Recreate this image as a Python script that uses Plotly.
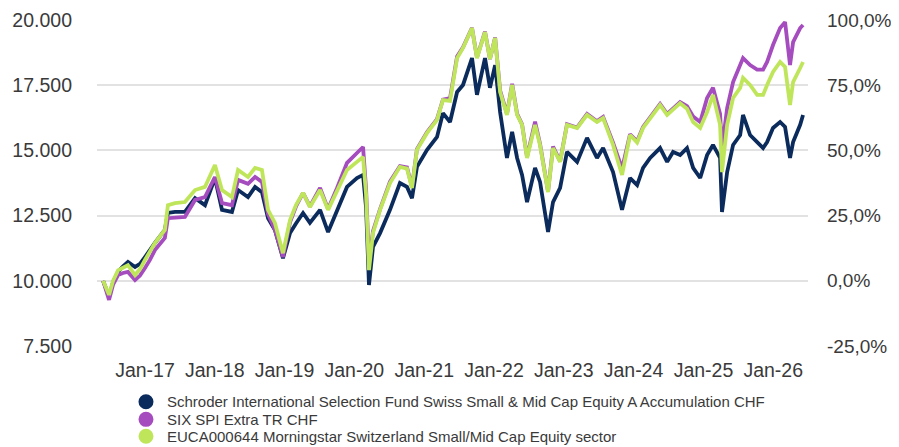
import plotly.graph_objects as go

dates = [
    "2016-05-27", "2016-06-27", "2016-07-18", "2016-08-13", "2016-09-08", "2016-10-04", "2016-11-10", "2016-12-06",
    "2017-01-01", "2017-01-27", "2017-02-22", "2017-03-20", "2017-04-15", "2017-05-01", "2017-06-07", "2017-07-29",
    "2017-09-20", "2017-11-11", "2018-01-02", "2018-02-08", "2018-04-01", "2018-05-03", "2018-06-24", "2018-07-31",
    "2018-09-05", "2018-10-07", "2018-11-12", "2018-12-24", "2019-01-30", "2019-03-02", "2019-04-08", "2019-05-14",
    "2019-07-06", "2019-08-17", "2019-10-03", "2019-11-24", "2020-01-15", "2020-02-16", "2020-03-03", "2020-03-18",
    "2020-04-08", "2020-05-15", "2020-07-06", "2020-08-27", "2020-10-03", "2020-10-29", "2020-11-24", "2021-01-16",
    "2021-03-09", "2021-04-09", "2021-05-16", "2021-06-22", "2021-07-23", "2021-09-08", "2021-10-04", "2021-11-15",
    "2021-12-11", "2022-01-07", "2022-02-02", "2022-03-10", "2022-04-06", "2022-05-02", "2022-05-28", "2022-06-23",
    "2022-08-04", "2022-08-30", "2022-10-11", "2022-11-06", "2022-12-13", "2023-01-18", "2023-03-12", "2023-05-03",
    "2023-06-24", "2023-07-26", "2023-09-16", "2023-11-02", "2023-12-14", "2024-01-20", "2024-02-20", "2024-03-28",
    "2024-05-19", "2024-06-25", "2024-07-26", "2024-09-01", "2024-10-07", "2024-11-08", "2024-12-15", "2025-01-20",
    "2025-02-20", "2025-03-29", "2025-04-08", "2025-05-05", "2025-06-05", "2025-07-12", "2025-07-27", "2025-09-02",
    "2025-10-09", "2025-11-09", "2025-11-30", "2025-12-31", "2026-02-06", "2026-03-04", "2026-03-30", "2026-04-15",
    "2026-05-22", "2026-06-06",
]

fund = [
    10000, 9400, 9950, 10350, 10550, 10720, 10530, 10650,
    10910, 11200, 11450, 11700, 11950, 12600, 12640, 12640,
    13170, 12900, 13940, 12720, 12640, 13480, 13210, 13600,
    13400, 12400, 11950, 10870, 11830, 12200, 12600, 12220,
    12720, 11870, 12720, 13600, 13940, 14060, 12800, 9840,
    11300, 11830, 12720, 13750, 13600, 13170, 14370, 15020,
    15520, 16430, 16090, 17240, 17510, 18540, 17130, 18540,
    17400, 18270, 16470, 14710, 15710, 14710, 14060, 13020,
    14330, 13790, 11870, 13020, 13560, 14940, 14560, 15480,
    14710, 15090, 14170, 12720, 13940, 13670, 14330, 14710,
    15090, 14560, 14940, 14820, 15090, 14330, 13940, 14820,
    15210, 14710, 12640, 14170, 15210, 15590, 16360, 15590,
    15320, 15090, 15320, 15860, 16090, 15900, 14710, 15320,
    15980, 16360,
]

index = [
    10000, 9270, 9850, 10220, 10300, 10340, 10030, 10200,
    10490, 10800, 11180, 11400, 11640, 12400, 12410, 12450,
    13100, 13210, 13980, 12980, 12900, 13870, 13720, 13980,
    13790, 12550, 11950, 10910, 12250, 12850, 13370, 12850,
    13560, 12750, 13560, 14520, 14900, 15130, 13500, 10680,
    11900, 12750, 13800, 14400, 14350, 13600, 15050, 15700,
    16200, 16950, 17000, 18600, 18950, 19700, 18560, 19560,
    18500, 19330, 17300, 16400, 17550, 16400, 16000, 14750,
    16100, 15250, 13420, 15150, 14580, 16000, 15880, 16400,
    16120, 16280, 15300, 14300, 15620, 15350, 15900, 16280,
    16780, 16400, 16600, 16850, 16700, 16300, 16090, 17010,
    17400, 16400, 15090, 16620, 17620, 18270, 18540, 18270,
    18100, 18100, 18390, 19040, 19690, 19920, 18270, 19150,
    19690, 19810,
]

sector = [
    10000, 9460, 10000, 10400, 10500, 10600, 10220, 10450,
    10800, 11150, 11450, 11700, 11950, 12900, 12980, 13020,
    13480, 13600, 14440, 13480, 13210, 14250, 13980, 14330,
    14250, 12720, 12220, 11060, 12330, 12900, 13370, 12830,
    13480, 12720, 13480, 14250, 14560, 14750, 13300, 10410,
    11830, 12720, 13750, 14370, 14300, 13560, 15020, 15670,
    16170, 16930, 16900, 18540, 18930, 19690, 18540, 19540,
    18500, 19310, 17240, 16360, 17510, 16360, 15980, 14710,
    15980, 15200, 13400, 15090, 14560, 15980, 15860, 16360,
    16090, 16240, 15210, 14060, 15590, 15300, 15860, 16240,
    16740, 16360, 16550, 16810, 16600, 16090, 15860, 16470,
    17130, 15980, 14170, 15980, 17010, 17400, 17780, 17510,
    17130, 17130, 17510, 18010, 18390, 18200, 16740, 17620,
    18160, 18390,
]

series_names = [
    "Schroder International Selection Fund Swiss Small & Mid Cap Equity A Accumulation CHF",
    "SIX SPI Extra TR CHF",
    "EUCA000644 Morningstar Switzerland Small/Mid Cap Equity sector",
]
series_colors = ["#0b2b5c", "#a54cbf", "#bfe65b"]

left_ticks = [7500, 10000, 12500, 15000, 17500, 20000]
right_ticks = [-25, 0, 25, 50, 75, 100]
right_labels = [f"{v:.1f}".replace(".", ",") + "%" for v in right_ticks]
base_value = 10000

FONT = "Liberation Sans, Arial, sans-serif"
TXT = "#3a3a3a"

fig = go.Figure()
for name, vals, col in zip(series_names, [fund, index, sector], series_colors):
    fig.add_trace(go.Scatter(
        x=dates, y=vals, name=name, mode="lines",
        line=dict(color=col, width=3.8), showlegend=False,
        hoverinfo="skip",
    ))

# percentage view of the fund on the right axis (invisible, keeps the axis drawn)
fig.add_trace(go.Scatter(
    x=dates, y=[(v / base_value - 1) * 100 for v in fund], yaxis="y2",
    mode="lines", line=dict(width=0, color="rgba(0,0,0,0)"), opacity=0,
    showlegend=False, hoverinfo="skip",
))

# custom legend (tight spacing as in the reference)
leg_y = [-0.171, -0.225, -0.277]
for name, col, yy in zip(series_names, series_colors, leg_y):
    fig.add_shape(type="circle", xref="paper", yref="paper",
                  xsizemode="pixel", ysizemode="pixel",
                  xanchor=0.0689, yanchor=yy,
                  x0=-7.5, x1=7.5, y0=-7.5, y1=7.5,
                  fillcolor=col, line=dict(width=0))
    fig.add_annotation(xref="paper", yref="paper", x=0.0956, y=yy,
                       xanchor="left", yanchor="middle", showarrow=False,
                       text=name, font=dict(family=FONT, size=15, color=TXT))

fig.update_layout(
    width=891, height=439,
    margin=dict(l=89, r=91, t=12, b=101),
    paper_bgcolor="white", plot_bgcolor="white",
    showlegend=False,
    separators=",.",
    font=dict(family=FONT, size=19, color=TXT),
    xaxis=dict(
        type="date", range=["2016-04-25", "2026-07-02"],
        tick0="2017-01-01", dtick="M12", tickformat="%b-%y",
        showgrid=False, zeroline=False, showline=False, ticks="",
        ticklabelstandoff=10, automargin=False,
        tickfont=dict(family=FONT, size=19.5, color=TXT),
    ),
    yaxis=dict(
        range=[7500, 20000], tickvals=left_ticks, tickformat=",.0f",
        showgrid=True, gridcolor="#e2e2e2", gridwidth=2,
        zeroline=False, showline=False, ticks="",
        ticklabelstandoff=24, automargin=False,
        tickfont=dict(family=FONT, size=19.5, color=TXT),
    ),
    yaxis2=dict(
        overlaying="y", side="right", range=[-25, 100],
        tickvals=right_ticks, ticktext=right_labels,
        showgrid=False, zeroline=False, showline=False, ticks="",
        ticklabelstandoff=18, automargin=False,
        tickfont=dict(family=FONT, size=19, color=TXT),
    ),
)

fig.write_html("out.html")
